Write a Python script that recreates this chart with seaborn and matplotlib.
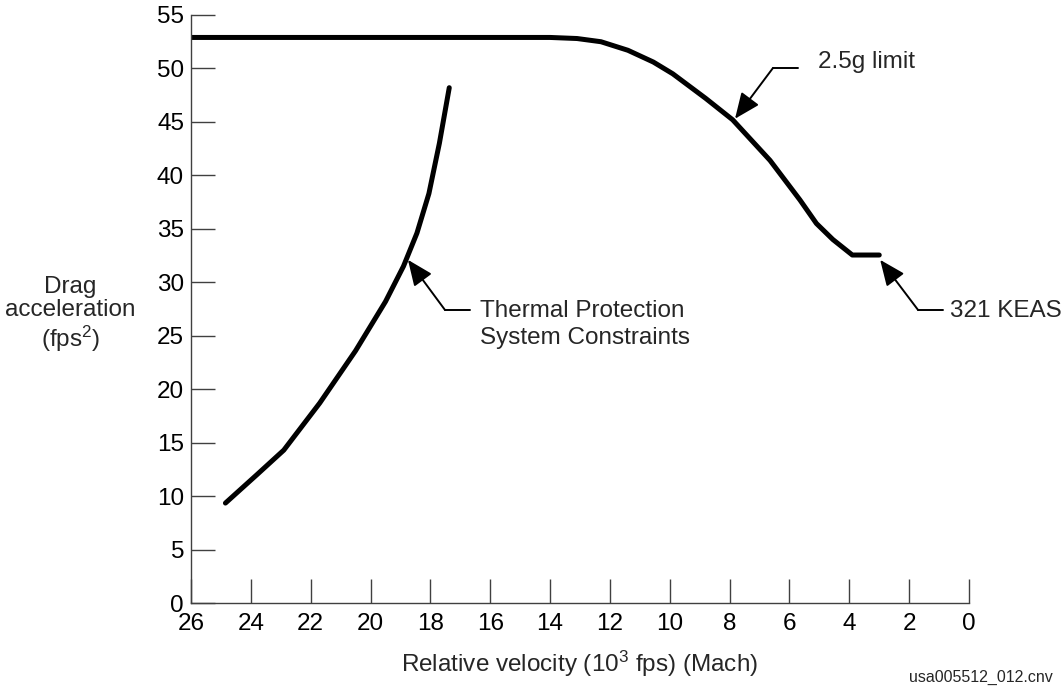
import numpy as np
import pandas as pd
import matplotlib
matplotlib.use("Agg")
import matplotlib.pyplot as plt
import seaborn as sns

# Drag limit (2.5g limit + 321 KEAS plateau), velocity in 1000 fps
limit_velocity = [26.0, 14.0, 13.1, 12.3, 11.4, 10.55, 9.9, 8.8, 7.9, 6.65,
                  5.65, 5.1, 4.55, 3.9, 3.0]
limit_drag = [52.9, 52.9, 52.8, 52.5, 51.7, 50.6, 49.5, 47.2, 45.2, 41.4,
              37.7, 35.5, 34.0, 32.55, 32.55]

# Thermal protection system constraint
tps_velocity = [24.85, 23.8, 22.9, 21.7, 20.5, 19.5, 18.9, 18.45, 18.05, 17.7, 17.37]
tps_drag = [9.35, 12.0, 14.3, 18.7, 23.6, 28.2, 31.5, 34.6, 38.3, 43.0, 48.2]

x_ticks = [26, 24, 22, 20, 18, 16, 14, 12, 10, 8, 6, 4, 2, 0]
y_ticks = [0, 5, 10, 15, 20, 25, 30, 35, 40, 45, 50, 55]

limit_df = pd.DataFrame({"velocity": limit_velocity, "drag": limit_drag})
tps_df = pd.DataFrame({"velocity": tps_velocity, "drag": tps_drag})

sns.set_style("ticks")
plt.rcParams["font.family"] = ["Liberation Sans", "DejaVu Sans"]
plt.rcParams["mathtext.default"] = "regular"

FS = 17.5

fig = plt.figure(figsize=(10.63, 6.88), dpi=100)
ax = fig.add_axes([0.1797, 0.1235, 0.9116 - 0.1797, 0.9782 - 0.1235])

line_kw = dict(color="black", linewidth=3.6, sort=False, estimator=None,
               solid_capstyle="round", solid_joinstyle="round", legend=False)
sns.lineplot(data=limit_df, x="velocity", y="drag", ax=ax, **line_kw)
sns.lineplot(data=tps_df, x="velocity", y="drag", ax=ax, **line_kw)

ax.set_xlim(26, 0)
ax.set_ylim(0, 55)
ax.set_xticks(x_ticks)
ax.set_yticks(y_ticks)
ax.tick_params(axis="both", direction="in", length=17, width=1.0,
               color="#404040", labelsize=FS, labelcolor="black")
ax.tick_params(axis="x", pad=7)
ax.tick_params(axis="y", pad=5)
for side in ["top", "right"]:
    ax.spines[side].set_visible(False)
for side in ["left", "bottom"]:
    ax.spines[side].set_color("#404040")
    ax.spines[side].set_linewidth(1.0)

ax.set_xlabel("Relative velocity (10$^{3}$ fps) (Mach)", fontsize=FS, labelpad=10)
ax.set_ylabel("Drag\nacceleration\n(fps$^{2}$)", fontsize=FS, rotation=0,
              ha="center", va="center", linespacing=1.1)
ax.yaxis.set_label_coords(-0.155, 0.49)

arrow_kw = dict(arrowstyle="-|>,head_length=0.75,head_width=0.32", color="black",
                lw=1.4, mutation_scale=21, shrinkA=0, shrinkB=0)

# 2.5g limit
ax.annotate("", xy=(7.82, 45.3), xytext=(6.55, 50.05), arrowprops=arrow_kw)
ax.plot([6.55, 5.71], [50.05, 50.05], color="black", lw=1.4, clip_on=False)
ax.text(5.04, 50.6, "2.5g limit", fontsize=FS, ha="left", va="center")

# Thermal protection
ax.annotate("", xy=(18.75, 32.1), xytext=(17.51, 27.4), arrowprops=arrow_kw)
ax.plot([17.51, 16.68], [27.4, 27.4], color="black", lw=1.4, clip_on=False)
ax.text(16.34, 27.3, "Thermal Protection", fontsize=FS, ha="left", va="center")
ax.text(16.34, 24.75, "System Constraints", fontsize=FS, ha="left", va="center")

# 321 KEAS
ax.annotate("", xy=(2.97, 32.1), xytext=(1.7, 27.4), arrowprops=arrow_kw,
            annotation_clip=False)
ax.plot([1.7, 0.87], [27.4, 27.4], color="black", lw=1.4, clip_on=False)
ax.text(0.63, 27.3, "321 KEAS", fontsize=FS, ha="left", va="center")

fig.text(0.99, 0.016, "usa005512_012.cnv", fontsize=11.5, ha="right", va="center")

fig.savefig("out.png", dpi=100)
